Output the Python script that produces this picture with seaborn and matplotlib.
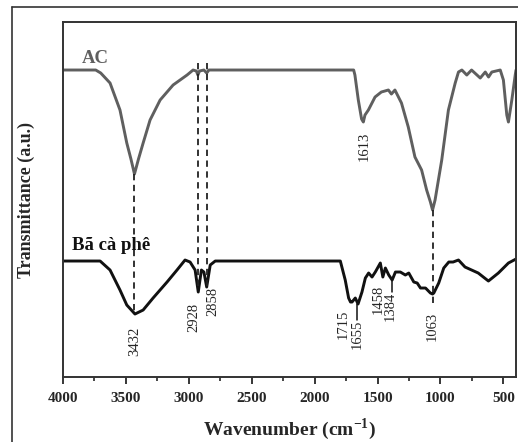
import pandas as pd
import matplotlib.pyplot as plt
import seaborn as sns
from matplotlib.ticker import MultipleLocator
from matplotlib.lines import Line2D

# FTIR spectra (wavenumber in cm-1, transmittance in a.u.)
ac_wn = [4000, 3740, 3700, 3626, 3547, 3493, 3460, 3432, 3400, 3363, 3308, 3228, 3125,
         3014, 2966, 2940, 2928, 2915, 2880, 2858, 2840, 1690, 1680, 1653, 1627, 1613,
         1600, 1573, 1520, 1470, 1414, 1390, 1362, 1310, 1256, 1203, 1150, 1110, 1080,
         1063, 1043, 990, 937, 883, 857, 830, 791, 753, 684, 644, 618, 592, 525, 500,
         473, 460, 433, 406, 400]
ac_t = [307, 307, 304, 294, 267, 234, 218, 203, 218, 234, 257, 277, 292,
        302, 307, 306, 302, 306, 307, 304, 307, 307, 302, 277, 258, 255,
        262, 267, 280, 285, 287, 283, 287, 274, 250, 220, 207, 187, 175,
        167, 177, 217, 267, 294, 305, 307, 302, 307, 299, 305, 300, 305, 307, 297,
        262, 255, 277, 302, 307]

bcp_wn = [4000, 3705, 3626, 3547, 3493, 3428, 3363, 3284, 3173, 3094, 3030, 2990, 2950,
          2925, 2900, 2880, 2858, 2830, 2790, 1812, 1796, 1757, 1730, 1715, 1703, 1677,
          1655, 1624, 1597, 1571, 1544, 1518, 1478, 1458, 1438, 1411, 1384, 1358, 1319,
          1279, 1252, 1212, 1185, 1159, 1119, 1080, 1063, 1053, 1014, 974, 934, 900,
          857, 805, 700, 619, 540, 460, 400]
bcp_t = [116, 116, 107, 87, 72, 63, 67, 79, 95, 107, 117, 115, 107,
         85, 107, 105, 90, 112, 116, 116, 116, 97, 79, 75, 75, 79,
         73, 85, 99, 104, 100, 105, 114, 100, 109, 102, 97, 105, 105,
         102, 104, 95, 94, 89, 89, 84, 83, 84, 94, 109, 115, 115,
         117, 110, 104, 96, 104, 114, 118]

sample_names = ["AC", "Bã cà phê"]
sample_colors = ["#5f5f5f", "#111111"]

df = pd.concat([
    pd.DataFrame({"wn": ac_wn, "T": ac_t, "sample": sample_names[0]}),
    pd.DataFrame({"wn": bcp_wn, "T": bcp_t, "sample": sample_names[1]}),
])

sns.set_style("ticks")
plt.rcParams['font.family'] = ['Liberation Serif', 'DejaVu Serif']

fig = plt.figure(figsize=(5.18, 4.42), dpi=100)
ax = fig.add_axes([0.1216, 0.147, 0.8745, 0.8032])

sns.lineplot(data=df, x="wn", y="T", hue="sample", palette=dict(zip(sample_names, sample_colors)),
             estimator=None, sort=True, linewidth=2.1, legend=False, ax=ax)

ax.set_xlim(4000, 400)
ax.set_ylim(0, 355)
ax.set_yticks([])
ax.xaxis.set_major_locator(MultipleLocator(500))
ax.xaxis.set_minor_locator(MultipleLocator(250))
ax.tick_params(axis='x', which='major', direction='out', length=5, width=1.3, labelsize=11, pad=6)
ax.tick_params(axis='x', which='minor', direction='out', length=3, width=1.2)
for lab in ax.get_xticklabels():
    lab.set_fontweight('bold')
for sp in ax.spines.values():
    sp.set_visible(True)
    sp.set_linewidth(1.4)
    sp.set_color('#333333')

ax.set_xlabel("Wavenumber (cm$^{\\mathregular{-1}}$)", fontsize=14, fontweight='bold', labelpad=8)
ax.set_ylabel("Transmittance (a.u.)", fontsize=13, fontweight='bold', labelpad=20)

# sample names
ax.text(3850, 319, "AC", fontsize=13.5, fontweight='bold', color=sample_colors[0], va='center')
ax.text(3930, 132, "Bã cà phê", fontsize=13.5, fontweight='bold', color=sample_colors[1], va='center')

# dashed guides
dash = dict(color='#222222', linestyle=(0, (3.5, 2.5)), linewidth=1.3)
ax.plot([3432, 3432], [203, 63], **dash)
ax.plot([2928, 2928], [314, 87], **dash)
ax.plot([2858, 2858], [314, 90], **dash)
ax.plot([1063, 1063], [167, 70], **dash)

# short solid markers from curve to labels
solid = dict(color='#111111', linewidth=1.1)
ax.plot([1660, 1660], [73, 57], **solid)
ax.plot([1384, 1384], [97, 85], **solid)

lab = dict(fontsize=10.5, rotation=90, ha='center', va='top')
ax.text(1606, 245, "1613", color='#222222', **lab)
ax.text(3428, 50, "3432", **lab)
ax.text(2962, 74, "2928", **lab)
ax.text(2808, 90, "2858", **lab)
ax.text(1772, 67, "1715", **lab)
ax.text(1658, 57, "1655", **lab)
ax.text(1494, 92, "1458", **lab)
ax.text(1398, 85, "1384", **lab)
ax.text(1067, 65, "1063", **lab)

# outer frame of the figure panel
fig.add_artist(Line2D([12 / 518, 1.0], [1 - 7 / 442, 1 - 7 / 442], color='#333333', linewidth=1.2))
fig.add_artist(Line2D([12 / 518, 12 / 518], [0, 1 - 7 / 442], color='#333333', linewidth=1.2))

fig.savefig("out.png", dpi=100)
